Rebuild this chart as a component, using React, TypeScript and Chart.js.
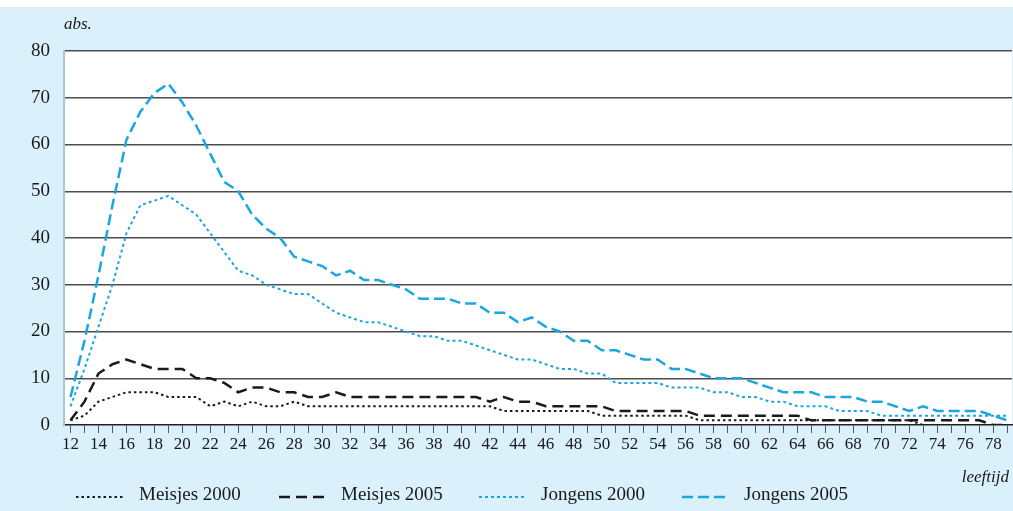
import { useEffect, useRef } from 'react';
import { Chart, registerables } from 'chart.js';

Chart.register(...registerables);

const ages = [12,13,14,15,16,17,18,19,20,21,22,23,24,25,26,27,28,29,30,31,32,33,34,35,36,37,38,39,40,41,42,43,44,45,46,47,48,49,50,51,52,53,54,55,56,57,58,59,60,61,62,63,64,65,66,67,68,69,70,71,72,73,74,75,76,77,78,79];

const meisjes2000 = [1,2,5,6,7,7,7,6,6,6,4,5,4,5,4,4,5,4,4,4,4,4,4,4,4,4,4,4,4,4,4,3,3,3,3,3,3,3,2,2,2,2,2,2,2,1,1,1,1,1,1,1,1,1,1,1,1,1,1,1,1,0,0,0,0,0,0,0];

const meisjes2005 = [1,5,11,13,14,13,12,12,12,10,10,9,7,8,8,7,7,6,6,7,6,6,6,6,6,6,6,6,6,6,5,6,5,5,4,4,4,4,4,3,3,3,3,3,3,2,2,2,2,2,2,2,2,1,1,1,1,1,1,1,1,1,1,1,1,1,0,0];

const jongens2000 = [4,12,21,30,41,47,48,49,47,45,41,37,33,32,30,29,28,28,26,24,23,22,22,21,20,19,19,18,18,17,16,15,14,14,13,12,12,11,11,9,9,9,9,8,8,8,7,7,6,6,5,5,4,4,4,3,3,3,2,2,2,2,2,2,2,2,2,2];

const jongens2005 = [6,18,32,47,61,67,71,73,69,64,58,52,50,45,42,40,36,35,34,32,33,31,31,30,29,27,27,27,26,26,24,24,22,23,21,20,18,18,16,16,15,14,14,12,12,11,10,10,10,9,8,7,7,7,6,6,6,5,5,4,3,4,3,3,3,3,2,1];

const yTicks = [0, 10, 20, 30, 40, 50, 60, 70, 80];

const seriesLabels = ['Meisjes 2000', 'Meisjes 2005', 'Jongens 2000', 'Jongens 2005'];

const BLACK = '#1a1a1a';
const BLUE = '#1aa7e1';
const BG = '#daf0fb';
const FONT = "'Liberation Serif', 'DejaVu Serif', serif";

const toPoints = (vals: number[]) => ages.map((a, i) => ({ x: a, y: vals[i] }));

export default function App() {
  const ref = useRef<HTMLCanvasElement | null>(null);

  useEffect(() => {
    if (!ref.current) return;

    const bgPlugin = {
      id: 'bgPlugin',
      beforeDraw(chart: any) {
        const { ctx, width, height, chartArea } = chart;
        ctx.save();
        ctx.fillStyle = BG;
        ctx.fillRect(0, 0, width, height);
        ctx.fillStyle = '#ffffff';
        ctx.fillRect(0, 0, width, 7);
        ctx.fillRect(chartArea.left, chartArea.top, chartArea.right - chartArea.left, chartArea.bottom - chartArea.top);
        ctx.restore();
      },
    };

    const legendPlugin = {
      id: 'customLegend',
      afterDraw(chart: any) {
        const { ctx } = chart;
        const sampleX = [76, 279, 479, 682];
        const textX = [139, 341, 541, 744];
        const y = 495;
        ctx.save();
        chart.data.datasets.forEach((ds: any, i: number) => {
          ctx.beginPath();
          ctx.strokeStyle = ds.borderColor;
          ctx.lineWidth = ds.borderWidth;
          ctx.setLineDash(ds.borderDash || []);
          ctx.moveTo(sampleX[i], y + 2);
          ctx.lineTo(sampleX[i] + 47, y + 2);
          ctx.stroke();
          ctx.setLineDash([]);
          ctx.fillStyle = BLACK;
          ctx.font = `19px ${FONT}`;
          ctx.textBaseline = 'middle';
          ctx.textAlign = 'left';
          ctx.fillText(ds.label, textX[i], y);
        });
        ctx.font = `italic 17px ${FONT}`;
        ctx.textAlign = 'left';
        ctx.fillText('abs.', 64, 25);
        ctx.textAlign = 'right';
        ctx.fillText('leeftijd', 1009, 478);
        ctx.restore();
      },
    };

    const chart = new Chart(ref.current, {
      type: 'line',
      data: {
        datasets: [
          {
            label: seriesLabels[0],
            data: toPoints(meisjes2000),
            borderColor: BLACK,
            borderWidth: 2,
            borderDash: [2.5, 3],
            pointRadius: 0,
            tension: 0,
            fill: false,
          },
          {
            label: seriesLabels[1],
            data: toPoints(meisjes2005),
            borderColor: BLACK,
            borderWidth: 2.5,
            borderDash: [11, 6],
            pointRadius: 0,
            tension: 0,
            fill: false,
          },
          {
            label: seriesLabels[2],
            data: toPoints(jongens2000),
            borderColor: BLUE,
            borderWidth: 2,
            borderDash: [3, 3],
            pointRadius: 0,
            tension: 0,
            fill: false,
          },
          {
            label: seriesLabels[3],
            data: toPoints(jongens2005),
            borderColor: BLUE,
            borderWidth: 2.5,
            borderDash: [11, 5],
            pointRadius: 0,
            tension: 0,
            fill: false,
          },
        ],
      },
      options: {
        responsive: false,
        animation: false,
        events: [],
        layout: { padding: { top: 51, right: 1, left: 0, bottom: 0 } },
        plugins: {
          legend: { display: false },
          title: { display: false },
          tooltip: { enabled: false },
        },
        scales: {
          x: {
            type: 'linear',
            min: 11.535,
            max: 79.35,
            afterBuildTicks: (scale: any) => {
              scale.ticks = ages.map((a) => ({ value: a }));
            },
            afterFit: (scale: any) => {
              scale.height = 86;
            },
            ticks: {
              autoSkip: false,
              maxRotation: 0,
              minRotation: 0,
              padding: 1,
              color: BLACK,
              font: { family: FONT, size: 17 },
              callback: (v: any) => (Number(v) % 2 === 0 ? String(v) : ''),
            },
            grid: {
              drawOnChartArea: false,
              drawTicks: true,
              tickLength: 8,
              color: '#555555',
              lineWidth: 1,
            },
            border: { display: true, color: '#222222', width: 1.5 },
          },
          y: {
            min: 0,
            max: 80,
            afterBuildTicks: (scale: any) => {
              scale.ticks = yTicks.map((v) => ({ value: v }));
            },
            afterFit: (scale: any) => {
              scale.width = 64;
            },
            ticks: {
              padding: 14,
              color: BLACK,
              font: { family: FONT, size: 19 },
            },
            grid: {
              drawTicks: false,
              color: (c: any) => (c.tick && c.tick.value === 0 ? 'rgba(0,0,0,0)' : '#4d4d4d'),
              lineWidth: 1.5,
            },
            border: { display: true, color: '#a9c6d6', width: 2 },
          },
        },
      },
      plugins: [bgPlugin, legendPlugin],
    });

    return () => chart.destroy();
  }, []);

  return (
    <div style={{ position: 'absolute', left: 0, top: 0, width: 1013, height: 511 }}>
      <canvas ref={ref} width={1013} height={511} style={{ display: 'block' }} />
    </div>
  );
}
